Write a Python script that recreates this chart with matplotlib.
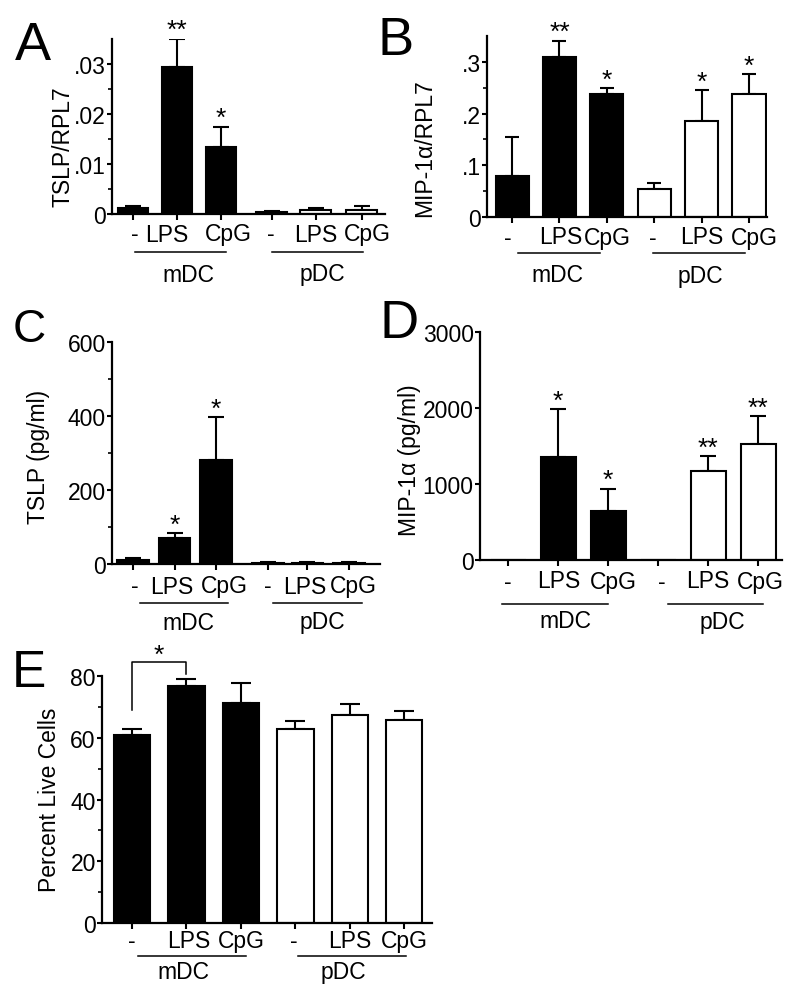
import numpy as np
import matplotlib.pyplot as plt
from matplotlib.transforms import offset_copy

plt.rcParams['font.family'] = ['Liberation Sans', 'DejaVu Sans']
plt.rcParams['axes.linewidth'] = 1.6

W, H = 800, 1003

treatments = ['-', 'LPS', 'CpG', '-', 'LPS', 'CpG']
groups = ['mDC', 'pDC']
fills = ['black', 'black', 'black', 'white', 'white', 'white']

# A: TSLP mRNA
tslp_mrna = [0.0012, 0.0295, 0.0135, 0.0005, 0.0009, 0.0008]
tslp_mrna_sem = [0.0004, 0.0056, 0.0040, 0.0001, 0.0003, 0.0008]
tslp_mrna_stars = ['', '**', '*', '', '', '']

# B: MIP-1a mRNA
mip_mrna = [0.079, 0.310, 0.238, 0.055, 0.186, 0.237]
mip_mrna_sem = [0.076, 0.031, 0.011, 0.011, 0.060, 0.040]
mip_mrna_stars = ['', '**', '*', '', '*', '*']

# C: TSLP protein
tslp_prot = [11, 71, 281, 4, 4, 4]
tslp_prot_sem = [5, 12, 116, 1, 1, 1]
tslp_prot_stars = ['', '*', '*', '', '', '']

# D: MIP-1a protein
mip_prot = [0, 1350, 640, 0, 1165, 1520]
mip_prot_sem = [0, 640, 300, 0, 200, 370]
mip_prot_stars = ['', '*', '*', '', '**', '**']

# E: viability
live = [61.0, 76.8, 71.1, 62.7, 67.3, 65.7]
live_sem = [1.9, 2.2, 6.7, 2.8, 3.6, 2.9]

fig = plt.figure(figsize=(W / 100, H / 100), dpi=100)


def panel(box, xpos, xlim, width, ylim, yticks, yticklabels, minor,
          mean, sem, stars, label_dx, label_dy, spans, group_x, line_dy, group_dy,
          capsize=6):
    left, right, y0, top = box
    ax = fig.add_axes([left / W, (H - y0) / H, (right - left) / W, (y0 - top) / H])
    ax.bar(xpos, mean, width, color=fills, edgecolor='black', linewidth=1.5, zorder=2)
    for x, m, s in zip(xpos, mean, sem):
        if s > 0:
            ax.errorbar(x, m, yerr=[[0], [s]], fmt='none', ecolor='black',
                        elinewidth=1.5, capsize=capsize, capthick=1.5, zorder=1)
    for x, m, s, st in zip(xpos, mean, sem, stars):
        if st:
            ax.annotate(st, xy=(x, m + s), xytext=(0, 1), textcoords='offset points',
                        ha='center', va='baseline', fontsize=19)
    ax.set_xlim(xlim)
    ax.set_ylim(ylim)
    ax.set_yticks(yticks)
    ax.set_yticklabels(yticklabels)
    if minor is not None:
        ax.set_yticks(minor, minor=True)
    ax.set_xticks(xpos)
    ax.set_xticklabels([])
    ax.tick_params(axis='y', which='major', direction='out', length=3.5, width=1.5,
                   pad=1, labelsize=16.5)
    ax.tick_params(axis='y', which='minor', direction='out', length=3, width=1.2)
    ax.tick_params(axis='x', direction='out', length=4, width=1.5)
    ax.spines[['top', 'right']].set_visible(False)

    xa = ax.get_xaxis_transform()
    for x, t, dx in zip(xpos, treatments, label_dx):
        ax.text(x, 0, t, ha='center', va='center', fontsize=16.5,
                transform=offset_copy(xa, fig=fig, x=dx, y=-label_dy, units='dots'))
    for (a, b), g, gx in zip(spans, groups, group_x):
        ax.plot([a, b], [0, 0], color='black', lw=1.1, clip_on=False,
                transform=offset_copy(xa, fig=fig, y=-line_dy, units='dots'))
        ax.text(gx, 0, g, ha='center', va='center', fontsize=16.5,
                transform=offset_copy(xa, fig=fig, y=-group_dy, units='dots'))
    return ax


# panel A
panel((112, 385, 215, 40), [0, 1, 2, 3.15, 4.15, 5.2], (-0.48, 5.73), 0.7,
      (0, 0.035), [0, 0.01, 0.02, 0.03], ['0', '.01', '.02', '.03'],
      np.arange(0.005, 0.035, 0.01),
      tslp_mrna, tslp_mrna_sem, tslp_mrna_stars,
      [2, -10, 7, -1, 0, 6], 20, [(0.05, 2.11), (3.16, 5.23)], [1.25, 4.3], 38, 60)

# panel B
panel((487, 767, 218, 37), [0, 1, 2, 3, 4, 5], (-0.53, 5.38), 0.7,
      (0, 0.35), [0, 0.1, 0.2, 0.3], ['0', '.1', '.2', '.3'],
      np.arange(0.05, 0.35, 0.1),
      mip_mrna, mip_mrna_sem, mip_mrna_stars,
      [-4, 1, 1, -1, 0, 5], 20, [(0.13, 1.86), (2.97, 4.92)], [0.95, 3.97], 36, 58,
      capsize=5)

# panel C
panel((112, 380, 565, 343), [0, 1, 2, 3.25, 4.2, 5.2], (-0.51, 5.95), 0.76,
      (0, 600), [0, 200, 400, 600], ['0', '200', '400', '600'],
      np.arange(100, 600, 200),
      tslp_prot, tslp_prot_sem, tslp_prot_stars,
      [2, -3, 8, 0, -3, 4], 22, [(0.17, 2.29), (3.37, 5.52)], [1.33, 4.55], 39, 58)

# panel D
panel((480, 782, 561, 333), [0, 1, 2, 3, 4, 5], (-0.56, 5.48), 0.7,
      (0, 3000), [0, 1000, 2000, 3000], ['0', '1000', '2000', '3000'], None,
      mip_prot, mip_prot_sem, mip_prot_stars,
      [0, 1, 5, 4, 0, 2], 21, [(-0.12, 2.0), (3.2, 5.1)], [1.14, 4.28], 44, 61)

# panel E
axE = panel((102, 432, 924, 677), [0, 1, 2, 3, 4, 5], (-0.55, 5.51), 0.67,
            (0, 80), [0, 20, 40, 60, 80], ['0', '20', '40', '60', '80'],
            np.arange(10, 80, 20),
            live, live_sem, [''] * 6,
            [0, 2, 1, -2, 0, 0], 18, [(0.11, 2.1), (3.05, 5.04)], [0.94, 3.88], 33, 49,
            capsize=7)
axE.plot([0, 0, 1, 1], [69, 84.5, 84.5, 80.5], color='black', lw=1.1, clip_on=False)
axE.text(0.5, 84.5, '*', ha='center', va='baseline', fontsize=19)

# axis titles
fig.text(63 / W, 1 - 147 / H, 'TSLP/RPL7', rotation=90, ha='center', va='center', fontsize=16.5)
fig.text(425 / W, 1 - 148 / H, 'MIP-1\u03b1/RPL7', rotation=90, ha='center', va='center', fontsize=16.5)
fig.text(38 / W, 1 - 457 / H, 'TSLP (pg/ml)', rotation=90, ha='center', va='center', fontsize=16.5)
fig.text(410 / W, 1 - 460 / H, 'MIP-1\u03b1 (pg/ml)', rotation=90, ha='center', va='center', fontsize=16.5)
fig.text(50 / W, 1 - 800 / H, 'Percent Live Cells', rotation=90, ha='center', va='center', fontsize=16.5)

# panel letters
for s, x, y, size in [('A', 15, 60, 39), ('B', 377, 55, 39), ('C', 13, 342, 33),
                      ('D', 379, 338, 39), ('E', 12, 687, 37)]:
    fig.text(x / W, 1 - y / H, s, ha='left', va='baseline', fontsize=size)

fig.savefig('out.png', dpi=100)
